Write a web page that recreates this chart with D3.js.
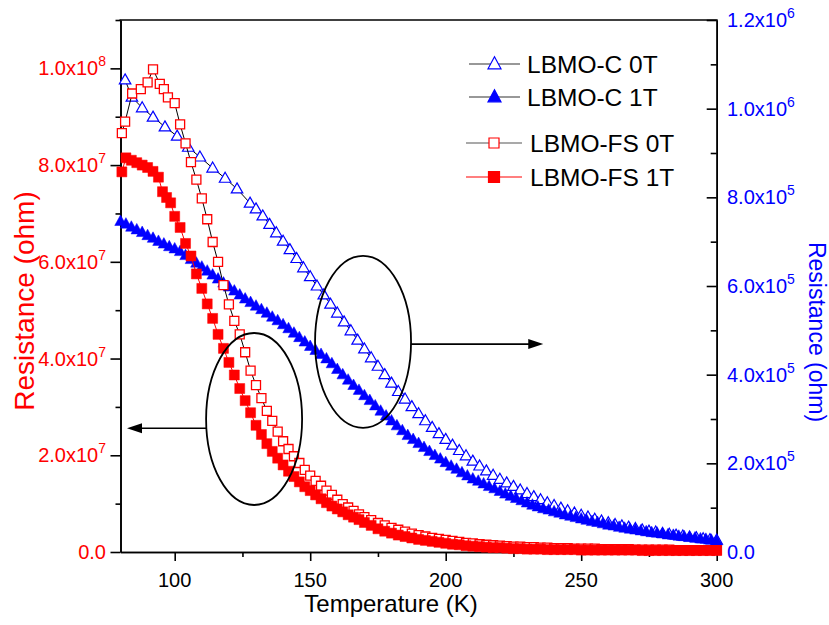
<!DOCTYPE html>
<html><head><meta charset="utf-8">
<script src="https://cdn.jsdelivr.net/npm/d3@7"></script>
<style>body{margin:0;background:#fff} text{font-family:"Liberation Sans",Arial,Helvetica,sans-serif}</style>
</head><body><svg id="c" width="829" height="625"></svg>
<script>
// ---------- DATA ----------
const xTickMajor = [100,150,200,250,300];
const xTickMinor = [125,175,225,275];
const leftTickMajor = [0,2e7,4e7,6e7,8e7,1e8];
const leftTickMinor = [1e7,3e7,5e7,7e7,9e7,1.1e8];
const leftTickLabels = [["0.0",""],["2.0x10","7"],["4.0x10","7"],["6.0x10","7"],["8.0x10","7"],["1.0x10","8"]];
const rightTickMajor = [0,2e5,4e5,6e5,8e5,1e6,1.2e6];
const rightTickMinor = [1e5,3e5,5e5,7e5,9e5,1.1e6];
const rightTickLabels = [["0.0",""],["2.0x10","5"],["4.0x10","5"],["6.0x10","5"],["8.0x10","5"],["1.0x10","6"],["1.2x10","6"]];

const seriesNames = ["LBMO-C 0T","LBMO-C 1T","LBMO-FS 0T","LBMO-FS 1T"];

// LBMO-C 0T  (right axis, values in 1e6 ohm)
const T_C0 = [81.7,84.2,88,92,96.4,100.9,105,109.3,114,118.6,123,127.8,130,132.5,135,137.5,140,142.5,145,147.5,150,152.5,155,157.5,160,162.5,165,167.5,170,172.5,175,177.5,180,182.5,185,187.5,190,192.5,195,197.5,200,202.5,205,207.5,210,212.5,215,217.5,220,222.5,225,227.5,230,232.5,235,237.5,240,242.5,245,247.5,250,252.5,255,257.5,260,262.5,265,267.5,270,272.5,275,277.5,280,282.5,285,287.5,290,292.5,295,297.5,300];
const R_C0 = [1.065,1.026,1.002,0.981,0.959,0.938,0.913,0.891,0.866,0.843,0.819,0.787,0.774,0.758,0.739,0.720,0.701,0.682,0.662,0.641,0.621,0.600,0.580,0.559,0.539,0.519,0.499,0.478,0.458,0.438,0.419,0.400,0.381,0.362,0.345,0.328,0.312,0.296,0.281,0.267,0.254,0.241,0.229,0.217,0.205,0.194,0.183,0.173,0.164,0.156,0.148,0.140,0.132,0.125,0.118,0.111,0.105,0.099,0.093,0.088,0.083,0.079,0.074,0.070,0.066,0.062,0.059,0.056,0.053,0.050,0.047,0.045,0.042,0.040,0.038,0.036,0.034,0.032,0.030,0.028,0.027];

// LBMO-C 1T  (right axis, values in 1e6 ohm)
const T_C1 = [80,82,84,86,88,90,92,94,96,98,100,102,104,106,108,110,112,114,116,118,120,122,124,126,128,130,132,134,136,138,140,142,144,146,148,150,152,154,156,158,160,162,164,166,168,170,172,174,176,178,180,182,184,186,188,190,192,194,196,198,200,202,204,206,208,210,212,214,216,218,220,222,224,226,228,230,232,234,236,238,240,242,244,246,248,250,252,254,256,258,260,262,264,266,268,270,272,274,276,278,280,282,284,286,288,290,292,294,296,298,300];
const R_C1 = [0.746,0.740,0.733,0.727,0.721,0.714,0.708,0.701,0.695,0.689,0.684,0.678,0.669,0.660,0.652,0.643,0.634,0.625,0.616,0.607,0.598,0.589,0.580,0.571,0.563,0.555,0.547,0.539,0.530,0.522,0.513,0.504,0.494,0.484,0.474,0.464,0.455,0.446,0.436,0.425,0.412,0.400,0.388,0.376,0.365,0.353,0.342,0.330,0.318,0.307,0.296,0.285,0.274,0.263,0.254,0.245,0.236,0.227,0.218,0.210,0.202,0.194,0.187,0.179,0.172,0.165,0.160,0.154,0.148,0.143,0.137,0.131,0.126,0.121,0.116,0.111,0.106,0.102,0.098,0.095,0.091,0.088,0.084,0.081,0.078,0.075,0.072,0.069,0.067,0.064,0.061,0.059,0.056,0.054,0.052,0.050,0.048,0.046,0.044,0.043,0.041,0.039,0.038,0.036,0.035,0.033,0.032,0.030,0.029,0.027,0.025];

// LBMO-FS 0T  (left axis, values in 1e8 ohm)
const T_FS0 = [80.5,81.7,84.3,87.5,90,92,94.5,96,97.5,100,102,104,106,108,110,112,114,116,118,120,122,124,126,128,130,132,134,136,138,140,142,144,146,148,150,152,154,156,158,160,162,164,166,168,170,172.5,175,177.5,180,182.5,185,187.5,190,192.5,195,197.5,200,202.5,205,207.5,210,212.5,215,217.5,220,222.5,225,227.5,230,232.5,235,237.5,240,242.5,245,247.5,250,252.5,255,257.5,260,262.5,265,267.5,270,272.5,275,277.5,280,282.5,285,287.5,290,292.5,295,297.5,300];
const R_FS0 = [0.866,0.890,0.948,0.957,0.971,0.998,0.968,0.957,0.940,0.928,0.884,0.845,0.806,0.770,0.731,0.688,0.641,0.600,0.552,0.512,0.478,0.450,0.413,0.375,0.345,0.318,0.292,0.271,0.249,0.229,0.213,0.198,0.184,0.170,0.158,0.147,0.137,0.127,0.118,0.108,0.099,0.092,0.085,0.078,0.072,0.066,0.060,0.055,0.050,0.046,0.042,0.038,0.035,0.032,0.029,0.027,0.025,0.023,0.021,0.019,0.018,0.016,0.015,0.014,0.013,0.012,0.011,0.011,0.010,0.010,0.009,0.009,0.008,0.008,0.008,0.007,0.007,0.007,0.007,0.006,0.006,0.006,0.006,0.006,0.005,0.005,0.005,0.005,0.005,0.005,0.004,0.004,0.004,0.004,0.004,0.004,0.004];

// LBMO-FS 1T  (left axis, values in 1e8 ohm)
const T_FS1 = [80.5,82,84,86,88,90,92,94,95.5,97,98.5,100,102,104,106,108,110,112,114,116,118,120,122,124,126,128,130,132,134,136,138,140,142,144,146,148,150,152,154,156,158,160,162,164,166,168,170,172.5,175,177.5,180,182.5,185,187.5,190,192.5,195,197.5,200,202.5,205,207.5,210,212.5,215,217.5,220,222.5,225,227.5,230,232.5,235,237.5,240,242.5,245,247.5,250,252.5,255,257.5,260,262.5,265,267.5,270,272.5,275,277.5,280,282.5,285,287.5,290,292.5,295,297.5,300];
const R_FS1 = [0.786,0.815,0.810,0.805,0.800,0.795,0.787,0.775,0.745,0.733,0.722,0.694,0.671,0.638,0.612,0.575,0.545,0.513,0.483,0.450,0.421,0.392,0.366,0.338,0.313,0.288,0.262,0.243,0.224,0.208,0.194,0.180,0.167,0.156,0.145,0.135,0.127,0.118,0.110,0.102,0.095,0.089,0.083,0.077,0.072,0.067,0.061,0.055,0.048,0.043,0.039,0.035,0.032,0.029,0.026,0.024,0.022,0.020,0.018,0.016,0.015,0.013,0.012,0.011,0.010,0.009,0.009,0.008,0.007,0.007,0.006,0.006,0.006,0.005,0.005,0.005,0.005,0.005,0.004,0.004,0.004,0.004,0.004,0.004,0.004,0.004,0.004,0.003,0.003,0.003,0.003,0.003,0.003,0.003,0.003,0.003,0.003,0.003,0.003];

// annotation anchors (data units)
const ellipseCenters = [{T:129.3, R:2.75e7, axis:"left"}, {T:169.5, R:4.74e5, axis:"right"}];
const arrows = [{T0:129.3, T1:82.4, R:2.56e7, axis:"left", side:-1}, {T0:169.5, T1:236, R:4.69e5, axis:"right", side:1}];

// ---------- CHART ----------
const RED = "#ff0000", BLUE = "#0000ff";
const svg = d3.select("#c");
const x = d3.scaleLinear().domain([80,300]).range([120.5,716.7]);
const yL = d3.scaleLinear().domain([0,1.1e8]).range([552,20]);
const yR = d3.scaleLinear().domain([0,1.2e6]).range([552,20]);

function styleAxis(g){ g.selectAll("path,line").attr("stroke","#000").attr("stroke-width",1.6); g.selectAll("text").remove(); }

// axes
svg.append("g").attr("transform","translate(0,552)").call(d3.axisBottom(x).tickValues(xTickMajor).tickSizeInner(9).tickSizeOuter(0).tickFormat("")).call(styleAxis);
svg.append("g").attr("transform","translate(0,552)").call(d3.axisBottom(x).tickValues(xTickMinor).tickSizeInner(5).tickSizeOuter(0).tickFormat("")).call(styleAxis);
svg.append("g").attr("transform","translate(120.5,0)").call(d3.axisLeft(yL).tickValues(leftTickMajor).tickSizeInner(10).tickSizeOuter(0).tickFormat("")).call(styleAxis);
svg.append("g").attr("transform","translate(120.5,0)").call(d3.axisLeft(yL).tickValues(leftTickMinor).tickSizeInner(5).tickSizeOuter(0).tickFormat("")).call(styleAxis);
svg.append("g").attr("transform","translate(716.7,0)").call(d3.axisRight(yR).tickValues(rightTickMajor).tickSizeInner(-10).tickSizeOuter(0).tickFormat("")).call(styleAxis);
svg.append("g").attr("transform","translate(716.7,0)").call(d3.axisRight(yR).tickValues(rightTickMinor).tickSizeInner(-6).tickSizeOuter(0).tickFormat("")).call(styleAxis);
svg.append("line").attr("x1",x(80)-1).attr("x2",x(300)+1).attr("y1",yR(1.2e6)).attr("y2",yR(1.2e6)).attr("stroke","#000").attr("stroke-width",1.6);

// tick labels
svg.append("g").selectAll("text").data(xTickMajor).join("text")
  .attr("x",d=>x(d)).attr("y",587).attr("text-anchor","middle").attr("font-size",20).attr("fill","#000").text(d=>d);

function supLabels(ticks, labels, scale, xpos, anchor, color){
  const g = svg.append("g");
  ticks.forEach((v,i)=>{
    const t = g.append("text").attr("x",xpos).attr("y",scale(v)+7).attr("text-anchor",anchor).attr("font-size",20).attr("fill",color);
    t.append("tspan").text(labels[i][0]);
    if(labels[i][1]) t.append("tspan").attr("dy",-9).attr("font-size",14).text(labels[i][1]);
  });
}
supLabels(leftTickMajor, leftTickLabels, yL, 106, "end", RED);
supLabels(rightTickMajor, rightTickLabels, yR, 727, "start", BLUE);

// axis titles
svg.append("text").attr("transform","translate(34,301) rotate(-90)").attr("text-anchor","middle").attr("font-size",28).attr("fill",RED).text("Resistance (ohm)");
svg.append("text").attr("transform","translate(809,332) rotate(90)").attr("text-anchor","middle").attr("font-size",23).attr("fill",BLUE).text("Resistance (ohm)");
svg.append("text").attr("x",391).attr("y",612).attr("text-anchor","middle").attr("font-size",24).attr("fill","#000").text("Temperature (K)");

// markers
const triPath = (w,h)=>`M0,${-h*0.6}L${w/2},${h*0.4}L${-w/2},${h*0.4}Z`;
const sqPath = s=>`M${-s/2},${-s/2}h${s}v${s}h${-s}Z`;

const series = [
  {T:T_C0, R:R_C0, unit:1e6, y:yR, line:"#000", shape:triPath(11.5,10), fill:"#fff", stroke:BLUE, sw:1.2},
  {T:T_C1, R:R_C1, unit:1e6, y:yR, line:"#000", shape:triPath(11.5,10.5), fill:BLUE, stroke:BLUE, sw:0.5},
  {T:T_FS0, R:R_FS0, unit:1e8, y:yL, line:"#000", shape:sqPath(9), fill:"#fff", stroke:RED, sw:1.3},
  {T:T_FS1, R:R_FS1, unit:1e8, y:yL, line:RED, shape:sqPath(10), fill:RED, stroke:RED, sw:0.5}
];
const plot = svg.append("g");
series.forEach(s=>{
  const pts = s.T.map((t,i)=>[x(t), s.y(s.R[i]*s.unit)]);
  plot.append("path").attr("d",d3.line()(pts)).attr("fill","none").attr("stroke",s.line).attr("stroke-width",1);
  plot.append("g").selectAll("path").data(pts).join("path")
    .attr("transform",d=>`translate(${d[0]},${d[1]})`).attr("d",s.shape)
    .attr("fill",s.fill).attr("stroke",s.stroke).attr("stroke-width",s.sw);
});

// annotations
const ann = svg.append("g");
ellipseCenters.forEach(e=>{
  const yy = e.axis==="left" ? yL : yR;
  ann.append("ellipse").attr("cx",x(e.T)).attr("cy",yy(e.R)).attr("rx",48).attr("ry",86)
    .attr("fill","none").attr("stroke","#000").attr("stroke-width",1.8);
});
arrows.forEach(a=>{
  const yy = a.axis==="left" ? yL : yR;
  const x0 = x(a.T0) + a.side*48, x1 = x(a.T1), yv = yy(a.R);
  ann.append("line").attr("x1",x0).attr("x2",x1 - a.side*12).attr("y1",yv).attr("y2",yv).attr("stroke","#000").attr("stroke-width",1.6);
  ann.append("path").attr("d",`M${x1},${yv}L${x1-a.side*15},${yv-5}L${x1-a.side*15},${yv+5}Z`).attr("fill","#000");
});

// legend
const legRows = [
  {y:64, x0:469, x1:520, line:"#333", shape:triPath(13,12), fill:"#fff", stroke:BLUE, tx:527},
  {y:97, x0:469, x1:520, line:"#333", shape:triPath(13,12), fill:BLUE, stroke:BLUE, tx:527},
  {y:143, x0:466, x1:522, line:"#555", shape:sqPath(10), fill:"#fff", stroke:RED, tx:530},
  {y:177, x0:466, x1:522, line:RED, shape:sqPath(11), fill:RED, stroke:RED, tx:530}
];
const leg = svg.append("g");
legRows.forEach((r,i)=>{
  leg.append("line").attr("x1",r.x0).attr("x2",r.x1).attr("y1",r.y).attr("y2",r.y).attr("stroke",r.line).attr("stroke-width",1.2);
  leg.append("path").attr("transform",`translate(${(r.x0+r.x1)/2},${r.y})`).attr("d",r.shape).attr("fill",r.fill).attr("stroke",r.stroke).attr("stroke-width",1.2);
  leg.append("text").attr("x",r.tx).attr("y",r.y+9).attr("font-size",24.5).attr("fill","#000").text(seriesNames[i]);
});
</script></body></html>
